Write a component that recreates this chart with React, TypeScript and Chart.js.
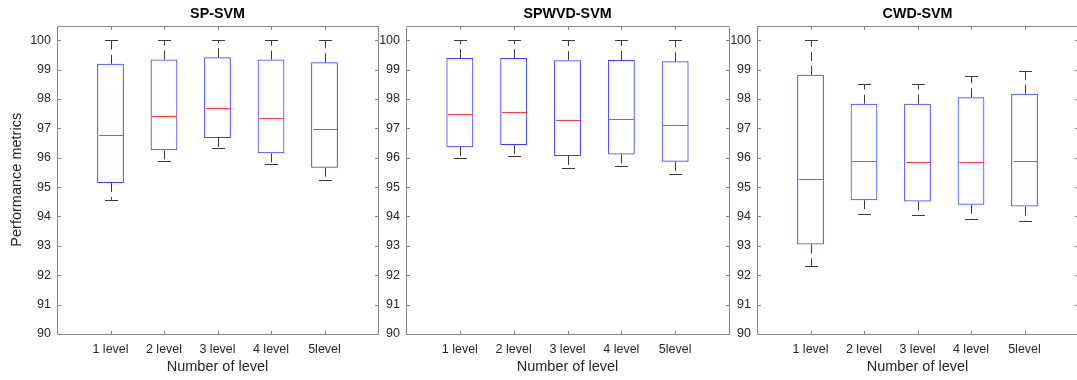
import React, { useEffect, useRef } from 'react';
import { Chart, registerables } from 'chart.js';

Chart.register(...registerables);

// Category labels shared by all three panels
const levels = ['1 level', '2 level', '3 level', '4 level', '5level'];
const yTickValues = [90, 91, 92, 93, 94, 95, 96, 97, 98, 99, 100];

// SP-SVM box statistics per level
const spUpper = [100, 100, 100, 100, 100];
const spQ3 = [99.2, 99.34, 99.42, 99.34, 99.25];
const spMedian = [96.78, 97.41, 97.68, 97.34, 96.97];
const spQ1 = [95.14, 96.25, 96.67, 96.15, 95.66];
const spLower = [94.57, 95.88, 96.33, 95.77, 95.23];

// SPWVD-SVM box statistics per level
const spwvdUpper = [100, 100, 100, 100, 100];
const spwvdQ3 = [99.39, 99.39, 99.32, 99.33, 99.28];
const spwvdMedian = [97.5, 97.55, 97.27, 97.31, 97.11];
const spwvdQ1 = [96.36, 96.43, 96.06, 96.11, 95.86];
const spwvdLower = [95.98, 96.07, 95.65, 95.72, 95.45];

// CWD-SVM box statistics per level
const cwdUpper = [100, 98.5, 98.5, 98.78, 98.96];
const cwdQ3 = [98.82, 97.84, 97.84, 98.06, 98.18];
const cwdMedian = [95.28, 95.89, 95.85, 95.85, 95.89];
const cwdQ1 = [93.05, 94.55, 94.51, 94.4, 94.34];
const cwdLower = [92.3, 94.1, 94.06, 93.9, 93.83];

const FONT = '"Liberation Sans", Arial, Helvetica, sans-serif';
const TEXT = '#262626';
const AXIS = '#858585';
const BLUE = 'rgb(60,60,255)';
const RED = 'rgb(255,60,60)';
const WHISKER = '#3a3a3a';

type Stats = { upper: number[]; q3: number[]; median: number[]; q1: number[]; lower: number[] };

const boxDetails = {
  id: 'boxDetails',
  afterDatasetsDraw(chart: any, _args: any, opts: any) {
    const { ctx, chartArea } = chart;
    const x = chart.scales.x;
    const y = chart.scales.y;
    const s: Stats = opts.stats;
    const r = (v: number) => Math.round(v) + 0.5;

    ctx.save();
    // whiskers, caps and medians
    s.median.forEach((m: number, i: number) => {
      const cx = r(x.getPixelForValue(i + 1));
      const capHalf = (x.getPixelForValue(1.125) - x.getPixelForValue(0.875)) / 2;
      const boxHalf = (x.getPixelForValue(1.25) - x.getPixelForValue(0.75)) / 2;
      ctx.lineWidth = 1;
      ctx.strokeStyle = WHISKER;
      ctx.setLineDash([9, 5]);
      ctx.beginPath();
      ctx.moveTo(cx, y.getPixelForValue(s.q3[i]));
      ctx.lineTo(cx, y.getPixelForValue(s.upper[i]));
      ctx.moveTo(cx, y.getPixelForValue(s.q1[i]));
      ctx.lineTo(cx, y.getPixelForValue(s.lower[i]));
      ctx.stroke();
      ctx.setLineDash([]);
      ctx.beginPath();
      const yu = r(y.getPixelForValue(s.upper[i]));
      const yl = r(y.getPixelForValue(s.lower[i]));
      ctx.moveTo(Math.round(cx - capHalf), yu);
      ctx.lineTo(Math.round(cx + capHalf), yu);
      ctx.moveTo(Math.round(cx - capHalf), yl);
      ctx.lineTo(Math.round(cx + capHalf), yl);
      ctx.stroke();
      ctx.strokeStyle = RED;
      ctx.beginPath();
      const ym = r(y.getPixelForValue(m));
      ctx.moveTo(cx - boxHalf + 1, ym);
      ctx.lineTo(cx + boxHalf - 1, ym);
      ctx.stroke();
    });

    // axes box with inward ticks
    const L = r(chartArea.left);
    const R = r(chartArea.right);
    const T = r(chartArea.top);
    const B = r(chartArea.bottom);
    const tk = 3.5;
    ctx.strokeStyle = AXIS;
    ctx.lineWidth = 1;
    ctx.beginPath();
    ctx.rect(L, T, R - L, B - T);
    yTickValues.forEach((v) => {
      const py = r(y.getPixelForValue(v));
      ctx.moveTo(L, py);
      ctx.lineTo(L + tk, py);
      ctx.moveTo(R, py);
      ctx.lineTo(R - tk, py);
    });
    levels.forEach((_, i) => {
      const px = r(x.getPixelForValue(i + 1));
      ctx.moveTo(px, B);
      ctx.lineTo(px, B - tk);
      ctx.moveTo(px, T);
      ctx.lineTo(px, T + tk);
    });
    ctx.stroke();

    // titles
    const midX = (chartArea.left + chartArea.right) / 2;
    ctx.fillStyle = '#000';
    ctx.textAlign = 'center';
    ctx.textBaseline = 'middle';
    ctx.font = `bold 14.3px ${FONT}`;
    ctx.fillText(opts.title, midX, 14.5);
    ctx.fillStyle = TEXT;
    ctx.font = `14.5px ${FONT}`;
    ctx.fillText('Number of level', midX, 367);
    if (opts.yTitle) {
      ctx.save();
      ctx.translate(17, (chartArea.top + chartArea.bottom) / 2);
      ctx.rotate(-Math.PI / 2);
      ctx.fillText(opts.yTitle, 0, 0);
      ctx.restore();
    }
    ctx.restore();
  },
};

type PanelProps = {
  title: string;
  stats: Stats;
  left: number;
  width: number;
  yAxisWidth: number;
  padRight: number;
  yTitle?: string;
};

function Panel({ title, stats, left, width, yAxisWidth, padRight, yTitle }: PanelProps) {
  const ref = useRef<HTMLCanvasElement | null>(null);

  useEffect(() => {
    if (!ref.current) return;
    const chart = new Chart(ref.current, {
      type: 'bar',
      data: {
        datasets: [
          {
            data: levels.map((_, i) => ({ x: i + 1, y: [stats.q1[i], stats.q3[i]] })) as any,
            backgroundColor: 'rgba(0,0,0,0)',
            borderColor: BLUE,
            borderWidth: 1,
            borderSkipped: false,
            categoryPercentage: 1,
            barPercentage: 0.5,
          },
        ],
      },
      options: {
        responsive: false,
        animation: false,
        devicePixelRatio: 1,
        layout: { padding: { top: 25.5, right: padRight, bottom: 0, left: 0 } },
        plugins: {
          legend: { display: false },
          tooltip: { enabled: false },
          title: { display: false },
          boxDetails: { stats, title, yTitle },
        } as any,
        scales: {
          x: {
            type: 'linear',
            min: 0,
            max: 6,
            offset: false,
            grid: { display: false, drawTicks: false, offset: false },
            border: { display: false },
            ticks: {
              stepSize: 1,
              includeBounds: false,
              autoSkip: false,
              maxRotation: 0,
              padding: 8,
              color: TEXT,
              font: { family: FONT, size: 12.5 },
              callback: (v: any) => levels[Number(v) - 1] ?? '',
            },
            afterBuildTicks: (s: any) => {
              s.ticks = s.ticks.filter((t: any) => t.value >= 1 && t.value <= 5);
            },
            afterFit: (s: any) => {
              s.height = 46;
            },
          },
          y: {
            min: 90,
            max: 100.5,
            grid: { display: false, drawTicks: false },
            border: { display: false },
            ticks: {
              stepSize: 1,
              includeBounds: false,
              padding: 6,
              color: TEXT,
              font: { family: FONT, size: 12.5 },
            },
            afterFit: (s: any) => {
              s.width = yAxisWidth;
            },
          },
        },
      } as any,
      plugins: [boxDetails],
    });
    return () => chart.destroy();
  }, []);

  return (
    <canvas
      ref={ref}
      width={width}
      height={380}
      style={{ position: 'fixed', left, top: 0, width, height: 380 }}
    />
  );
}

export default function App() {
  return (
    <div style={{ width: 1077, height: 380 }}>
      <Panel
        title="SP-SVM"
        stats={{ upper: spUpper, q3: spQ3, median: spMedian, q1: spQ1, lower: spLower }}
        left={0}
        width={390}
        yAxisWidth={57}
        padRight={12}
        yTitle="Performance metrics"
      />
      <Panel
        title="SPWVD-SVM"
        stats={{ upper: spwvdUpper, q3: spwvdQ3, median: spwvdMedian, q1: spwvdQ1, lower: spwvdLower }}
        left={376}
        width={364}
        yAxisWidth={30}
        padRight={11}
      />
      <Panel
        title="CWD-SVM"
        stats={{ upper: cwdUpper, q3: cwdQ3, median: cwdMedian, q1: cwdQ1, lower: cwdLower }}
        left={727}
        width={358}
        yAxisWidth={30}
        padRight={7}
      />
    </div>
  );
}
